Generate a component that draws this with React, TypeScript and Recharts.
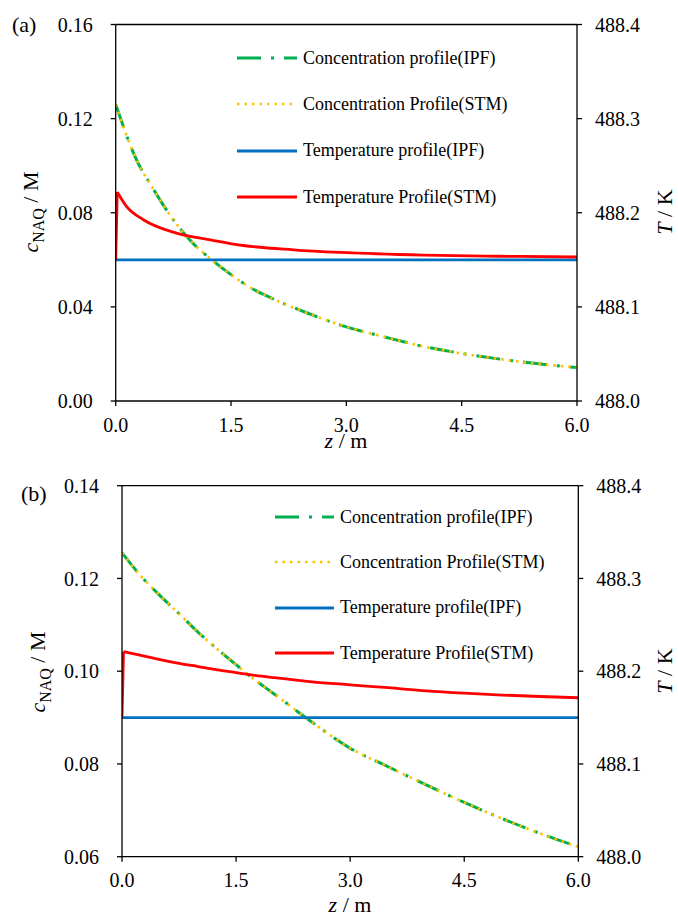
import React from 'react';
import { LineChart, Line, XAxis, YAxis, ReferenceLine, Legend } from 'recharts';

const FONT = '"Liberation Serif", "Times New Roman", serif';

// ---------- Panel (a) ----------
const zConcA = [0, 0.25, 0.5, 0.75, 1.0, 1.25, 1.5, 1.75, 2.0, 2.5, 3.0, 3.5, 4.0, 4.5, 5.0, 5.5, 6.0];
const concIPF_A = [0.126, 0.104, 0.0895, 0.077, 0.0672, 0.060, 0.0537, 0.0482, 0.0441, 0.0373, 0.0315, 0.0272, 0.0232, 0.0202, 0.0178, 0.0158, 0.0142];
const concSTM_A = [0.126, 0.104, 0.0895, 0.077, 0.0672, 0.060, 0.0537, 0.0482, 0.0441, 0.0373, 0.0315, 0.0272, 0.0232, 0.0202, 0.0178, 0.0158, 0.0142];
const zTempIPF_A = [0, 6.0];
const tempIPF_A = [488.15, 488.15];
const zTempSTM_A = [0, 0.02, 0.14, 0.36, 0.79, 1.23, 1.66, 2.31, 2.92, 4.0, 5.0, 6.0];
const tempSTM_A = [488.15, 488.222, 488.2067, 488.1926, 488.1784, 488.1713, 488.1652, 488.1606, 488.1578, 488.155, 488.1538, 488.153];

// ---------- Panel (b) ----------
const zConcB = [0, 0.25, 0.5, 0.75, 1.0, 1.25, 1.5, 1.75, 2.0, 2.5, 3.0, 3.5, 4.0, 4.5, 5.0, 5.5, 6.0];
const concIPF_B = [0.1255, 0.1205, 0.1163, 0.1124, 0.1084, 0.1048, 0.1014, 0.0981, 0.0951, 0.089, 0.0834, 0.0794, 0.0755, 0.0717, 0.0682, 0.065, 0.0621];
const concSTM_B = [0.1255, 0.1205, 0.1163, 0.1124, 0.1084, 0.1048, 0.1014, 0.0981, 0.0951, 0.089, 0.0834, 0.0794, 0.0755, 0.0717, 0.0682, 0.065, 0.0621];
const zTempIPF_B = [0, 6.0];
const tempIPF_B = [488.15, 488.15];
const zTempSTM_B = [0, 0.02, 0.25, 0.5, 0.75, 1.0, 1.25, 1.5, 1.75, 2.0, 2.5, 3.0, 3.5, 4.0, 4.5, 5.0, 5.5, 6.0];
const tempSTM_B = [488.15, 488.221, 488.217, 488.2125, 488.2085, 488.205, 488.2015, 488.1985, 488.1955, 488.193, 488.1885, 488.1853, 488.1822, 488.1788, 488.1763, 488.1743, 488.1727, 488.1714];

// ---------- Ticks ----------
const xTicks = [0, 1.5, 3.0, 4.5, 6.0];
const leftTicksA = [0, 0.04, 0.08, 0.12, 0.16];
const leftTicksB = [0.06, 0.08, 0.1, 0.12, 0.14];
const rightTicks = [488.0, 488.1, 488.2, 488.3, 488.4];

const SERIES = [
  { key: 'cIPF', name: 'Concentration profile(IPF)', color: '#00B050', dash: '24 10 3 10', width: 3, axis: 'left' },
  { key: 'cSTM', name: 'Concentration Profile(STM)', color: '#FFC000', dash: '2.5 5', width: 2.6, axis: 'left' },
  { key: 'tIPF', name: 'Temperature profile(IPF)', color: '#0070C0', dash: undefined, width: 2.8, axis: 'right' },
  { key: 'tSTM', name: 'Temperature Profile(STM)', color: '#FF0000', dash: undefined, width: 2.8, axis: 'right' },
];

type S = { key: string; z: number[]; v: number[] };
function buildRows(series: S[]) {
  const map = new Map<number, any>();
  series.forEach((s) =>
    s.z.forEach((z, i) => {
      const r = map.get(z) || { z };
      r[s.key] = s.v[i];
      map.set(z, r);
    })
  );
  return Array.from(map.values()).sort((a, b) => a.z - b.z);
}

// the STM temperature curve: its inlet jump (first two points) is drawn straight, the rest smooth
function tempSeries(z: number[], v: number[]): S[] {
  return [
    { key: 'tSTM0', z: z.slice(0, 2), v: v.slice(0, 2) },
    { key: 'tSTM', z: z.slice(1), v: v.slice(1) },
  ];
}

const rowsA = buildRows([
  { key: 'cIPF', z: zConcA, v: concIPF_A },
  { key: 'cSTM', z: zConcA, v: concSTM_A },
  { key: 'tIPF', z: zTempIPF_A, v: tempIPF_A },
  ...tempSeries(zTempSTM_A, tempSTM_A),
]);
const rowsB = buildRows([
  { key: 'cIPF', z: zConcB, v: concIPF_B },
  { key: 'cSTM', z: zConcB, v: concSTM_B },
  { key: 'tIPF', z: zTempIPF_B, v: tempIPF_B },
  ...tempSeries(zTempSTM_B, tempSTM_B),
]);

const makeLegend = (rowH: number, lineW: number, gap: number) => () => (
  <div style={{ fontFamily: FONT, fontSize: 18, color: '#000' }}>
    {SERIES.map((s) => (
      <div key={s.key} style={{ height: rowH, display: 'flex', alignItems: 'center' }}>
        <svg width={lineW} height={6} style={{ marginRight: gap, display: 'block' }}>
          <line x1={0} y1={3} x2={lineW} y2={3} stroke={s.color} strokeWidth={s.width} strokeDasharray={s.dash} />
        </svg>
        <span style={{ whiteSpace: 'nowrap' }}>{s.name}</span>
      </div>
    ))}
  </div>
);

const tickStyle = { fill: '#000', fontSize: 20, fontFamily: FONT };
const axisLine = { stroke: '#000', strokeWidth: 1.3 };
const tickLine = { stroke: '#000', strokeWidth: 1.3 };

type PanelProps = {
  rows: any[];
  height: number;
  top: number;
  leftW: number;
  rightW: number;
  xH: number;
  leftDomain: [number, number];
  leftTicks: number[];
  xTickMargin: number;
  legendLeft: number;
  legendTop: number;
  legendRowH: number;
  legendLineW: number;
};

function Panel(p: PanelProps) {
  const red = SERIES[3];
  return (
    <LineChart
      width={678}
      height={p.height}
      data={p.rows}
      margin={{ top: p.top, right: 0, bottom: 0, left: 0 }}
    >
      <XAxis
        dataKey="z"
        type="number"
        domain={[0, 6]}
        ticks={xTicks}
        tickFormatter={(v: number) => v.toFixed(1)}
        height={p.xH}
        tick={tickStyle}
        tickSize={5}
        tickMargin={p.xTickMargin}
        axisLine={axisLine}
        tickLine={tickLine}
        allowDataOverflow
      />
      <YAxis
        yAxisId="left"
        domain={p.leftDomain}
        ticks={p.leftTicks}
        tickFormatter={(v: number) => v.toFixed(2)}
        width={p.leftW}
        tick={tickStyle}
        tickSize={5}
        tickMargin={18}
        axisLine={axisLine}
        tickLine={tickLine}
        allowDataOverflow
      />
      <YAxis
        yAxisId="right"
        orientation="right"
        domain={[488.0, 488.4]}
        ticks={rightTicks}
        tickFormatter={(v: number) => v.toFixed(1)}
        width={p.rightW}
        tick={tickStyle}
        tickSize={5}
        tickMargin={13}
        axisLine={axisLine}
        tickLine={tickLine}
        allowDataOverflow
      />
      <ReferenceLine yAxisId="left" y={p.leftDomain[1]} stroke="#000" strokeWidth={1.3} />
      {SERIES.map((s) => (
        <Line
          key={s.key}
          yAxisId={s.axis}
          dataKey={s.key}
          name={s.name}
          type="monotone"
          stroke={s.color}
          strokeWidth={s.width}
          strokeDasharray={s.dash}
          dot={false}
          activeDot={false}
          connectNulls
          isAnimationActive={false}
        />
      ))}
      <Line
        yAxisId="right"
        dataKey="tSTM0"
        name={red.name}
        type="linear"
        stroke={red.color}
        strokeWidth={red.width}
        dot={false}
        activeDot={false}
        connectNulls
        isAnimationActive={false}
        legendType="none"
      />
      <Legend
        layout="vertical"
        align="center"
        verticalAlign="middle"
        content={makeLegend(p.legendRowH, p.legendLineW, 6)}
        wrapperStyle={{ left: p.legendLeft, top: p.legendTop, width: 340, height: 'auto' }}
      />
    </LineChart>
  );
}

export default function App() {
  return (
    <div style={{ position: 'absolute', left: 0, top: 0, width: 678, height: 922, background: '#fff', fontFamily: FONT }}>
      <div style={{ position: 'absolute', left: 0, top: 0 }}>
        <Panel
          rows={rowsA}
          height={450}
          top={24.5}
          leftW={115.7}
          rightW={101}
          xH={49}
          leftDomain={[0, 0.16]}
          leftTicks={leftTicksA}
          xTickMargin={12}
          legendLeft={237}
          legendTop={35}
          legendRowH={46.3}
          legendLineW={60}
        />
      </div>
      <div style={{ position: 'absolute', left: 0, top: 460 }}>
        <Panel
          rows={rowsB}
          height={462}
          top={25.7}
          leftW={122}
          rightW={99.7}
          xH={65.3}
          leftDomain={[0.06, 0.14]}
          leftTicks={leftTicksB}
          xTickMargin={11}
          legendLeft={275}
          legendTop={34.4}
          legendRowH={45.4}
          legendLineW={59}
        />
      </div>
      <svg
        width={678}
        height={922}
        style={{ position: 'absolute', left: 0, top: 0, pointerEvents: 'none' }}
        fontFamily={FONT}
      >
        <text x={12} y={32} fontSize={22} fill="#000">(a)</text>
        <text x={21} y={501} fontSize={22} fill="#000">(b)</text>

        <text x={38} y={212} fontSize={22} fill="#000" textAnchor="middle" transform="rotate(-90 38 212)">
          <tspan fontStyle="italic">c</tspan>
          <tspan fontSize={16} dy={6}>NAQ</tspan>
          <tspan dy={-6}> / M</tspan>
        </text>
        <text x={45} y={672} fontSize={22} fill="#000" textAnchor="middle" transform="rotate(-90 45 672)">
          <tspan fontStyle="italic">c</tspan>
          <tspan fontSize={16} dy={6}>NAQ</tspan>
          <tspan dy={-6}> / M</tspan>
        </text>

        <text x={672} y={212} fontSize={22} fill="#000" textAnchor="middle" transform="rotate(-90 672 212)">
          <tspan fontStyle="italic">T</tspan>
          <tspan> / K</tspan>
        </text>
        <text x={672} y={671} fontSize={22} fill="#000" textAnchor="middle" transform="rotate(-90 672 671)">
          <tspan fontStyle="italic">T</tspan>
          <tspan> / K</tspan>
        </text>

        <text x={346} y={448} fontSize={22} fill="#000" textAnchor="middle">
          <tspan fontStyle="italic">z</tspan>
          <tspan> / m</tspan>
        </text>
        <text x={350} y={912} fontSize={22} fill="#000" textAnchor="middle">
          <tspan fontStyle="italic">z</tspan>
          <tspan> / m</tspan>
        </text>
      </svg>
    </div>
  );
}
